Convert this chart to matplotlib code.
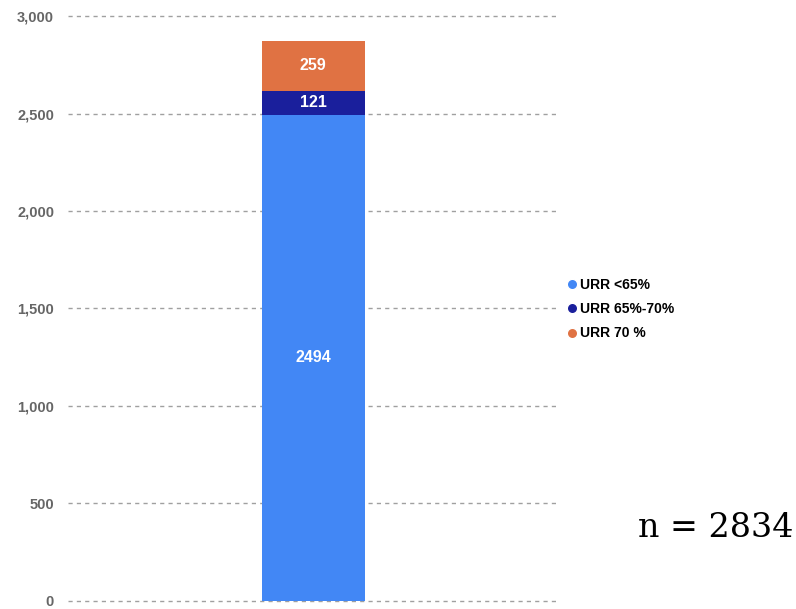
import matplotlib.pyplot as plt
from matplotlib.lines import Line2D
from matplotlib.ticker import FuncFormatter

plt.rcParams['font.family'] = ['Liberation Sans', 'DejaVu Sans']

# stacked segments, bottom to top
labels = ['URR <65%', 'URR 65%-70%', 'URR 70 %']
values = [2494, 121, 259]
colors = ['#4287f5', '#1a1f9c', '#e07243']
y_ticks = [0, 500, 1000, 1500, 2000, 2500, 3000]
n_text = 'n = 2834'

fig = plt.figure(figsize=(7.96, 6.09), dpi=100)
ax = fig.add_axes([0.0854, 0.0135, 0.616, 0.960])

bottom = 0
for val, col in zip(values, colors):
    ax.bar(0, val, width=0.21, bottom=bottom, color=col, zorder=3)
    ax.text(0, bottom + val / 2, str(val), ha='center', va='center',
            color='white', fontweight='bold', fontsize=11.5, zorder=4)
    bottom += val

ax.set_xlim(-0.5, 0.5)
ax.set_ylim(0, 3000)
ax.set_yticks(y_ticks)
ax.yaxis.set_major_formatter(FuncFormatter(lambda v, p: f'{int(v):,}'))
ax.set_xticks([])
ax.grid(axis='y', linestyle=(0, (3, 3)), color='#a0a0a0', linewidth=1, zorder=0)
for gl in ax.get_ygridlines():
    gl.set_clip_on(False)
for s in ax.spines.values():
    s.set_visible(False)
ax.tick_params(axis='y', length=0, pad=10, labelsize=10.5, labelcolor='#666666')
for t in ax.get_yticklabels():
    t.set_fontweight('bold')

handles = [Line2D([0], [0], marker='o', color='w', markerfacecolor=c,
                  markersize=7.5) for c in colors]
fig.legend(handles, labels, loc='center left', bbox_to_anchor=(0.698, 0.4926),
           frameon=False, handlelength=0.6, handletextpad=0.25, labelspacing=0.75,
           prop={'weight': 'bold', 'size': 10})

fig.text(0.997, 0.133, n_text, ha='right', va='center', fontsize=24,
         family='DejaVu Serif')

fig.savefig('out.png', dpi=100)
